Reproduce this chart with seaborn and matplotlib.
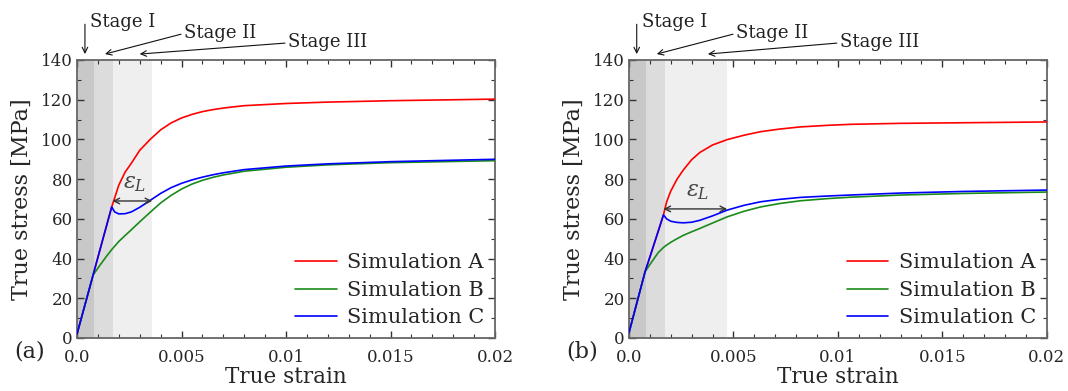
import numpy as np
import matplotlib
matplotlib.use("Agg")
import matplotlib.pyplot as plt
import seaborn as sns
from matplotlib.ticker import MultipleLocator

# panel (a)
strain_a = [0, 0.00077, 0.0011, 0.0014, 0.00166, 0.0018, 0.002, 0.0023, 0.0026, 0.003,
            0.0035, 0.004, 0.0045, 0.005, 0.0055, 0.006, 0.0065, 0.007, 0.008, 0.01,
            0.012, 0.015, 0.02]
sim_a_A = [2, 31.7, 44.5, 56, 66, 70.5, 77, 83.5, 88, 94.5,
           100, 104.8, 108.3, 110.8, 112.6, 114, 115, 115.8, 117, 118.1,
           118.8, 119.5, 120.3]
sim_a_B = [2, 31.7, 36.7, 41, 44.5, 46.2, 48.6, 51.6, 54.5, 58.5,
           63.3, 68, 71.8, 75, 77.5, 79.4, 80.9, 82.1, 84, 86,
           87.2, 88.3, 89.3]
sim_a_C = [2, 31.7, 44.5, 56, 66, 63.5, 62.5, 62.6, 63.5, 65.8,
           69.3, 72.8, 75.7, 77.9, 79.6, 81, 82.2, 83.2, 84.8, 86.6,
           87.7, 88.8, 90]

# panel (b)
strain_b = [0, 0.00077, 0.0011, 0.0014, 0.00165, 0.0018, 0.002, 0.0023, 0.0026, 0.003,
            0.0034, 0.004, 0.0047, 0.0055, 0.0063, 0.0072, 0.0082, 0.0095, 0.0106,
            0.013, 0.016, 0.02]
sim_b_A = [2.7, 33.4, 44, 53.8, 62, 68.5, 74, 80, 84.6, 89.8,
           93.5, 97.2, 99.9, 102.1, 103.9, 105.2, 106.3, 107.1, 107.6,
           108.1, 108.4, 108.8]
sim_b_B = [2.7, 33.4, 38.5, 43, 45.6, 46.8, 48.2, 50, 51.7, 53.5,
           55.2, 57.9, 61, 63.8, 66, 67.7, 69.1, 70.2, 70.9,
           72, 72.8, 73.5]
sim_b_C = [2.7, 33.4, 44, 53.8, 62, 60, 58.8, 58.2, 58, 58.3,
           59.3, 61.5, 64.4, 66.8, 68.6, 69.8, 70.8, 71.5, 72,
           73, 73.8, 74.5]

# stage boundaries (strain)
stages_a = [0.0008, 0.0017, 0.0036]
stages_b = [0.0008, 0.0017, 0.0047]
# epsilon_L arrow: start, end, stress
epsl_a = [0.0017, 0.0036, 69]
epsl_b = [0.00165, 0.0047, 65]
stage_tips_a = [0.00038, 0.00134, 0.0030]
stage_tips_b = [0.00037, 0.00133, 0.00378]

labels = ["Simulation A", "Simulation B", "Simulation C"]
colors = ["#ff0000", "#1a8a1a", "#0000ff"]

sns.set_style("ticks")
plt.rcParams["font.family"] = "DejaVu Serif"
plt.rcParams["mathtext.fontset"] = "dejavuserif"

fig = plt.figure(figsize=(10.68, 3.91), dpi=100)
ax1 = fig.add_axes([77/1068, 53/391, 418/1068, 278/391])
ax2 = fig.add_axes([629/1068, 53/391, 417.7/1068, 278/391])


def panel(ax, strain, curves, stages, epsl, tips, tag):
    shades = ["#c8c8c8", "#dcdcdc", "#efefef"]
    left = 0
    for s, c in zip(stages, shades):
        ax.axvspan(left, s, color=c, lw=0, zorder=0)
        left = s
    for y, lab, col in zip(curves, labels, colors):
        sns.lineplot(x=strain, y=y, ax=ax, color=col, label=lab, linewidth=1.2,
                     estimator=None, zorder=3)
    ax.set_xlim(0, 0.02)
    ax.set_ylim(0, 140)
    ax.set_xticks([0, 0.005, 0.01, 0.015, 0.02])
    ax.set_xticklabels(["0.0", "0.005", "0.01", "0.015", "0.02"])
    ax.set_yticks(range(0, 141, 20))
    ax.xaxis.set_minor_locator(MultipleLocator(0.001))
    ax.yaxis.set_minor_locator(MultipleLocator(10))
    ax.tick_params(which="both", direction="in", top=True, right=True,
                   labelsize=12, color="#333333")
    ax.tick_params(axis="x", pad=8)
    ax.tick_params(axis="y", pad=3)
    ax.tick_params(which="major", length=5, width=1)
    ax.tick_params(which="minor", length=3, width=0.8)
    for sp in ax.spines.values():
        sp.set_color("#666666")
        sp.set_linewidth(1.3)
    ax.set_xlabel("True strain", fontsize=15.5)
    ax.set_ylabel("True stress [MPa]", fontsize=16)
    ax.xaxis.set_label_coords(0.5, -0.1)
    ax.yaxis.set_label_coords(-0.105, 0.5)

    ax.legend(loc="lower right", frameon=False, fontsize=15, handlelength=2.0,
              handletextpad=0.5, labelspacing=0.4, borderaxespad=0.12)

    # epsilon_L
    ax.annotate("", xy=(epsl[1], epsl[2]), xytext=(epsl[0], epsl[2]),
                arrowprops=dict(arrowstyle="<->", color="#333333", lw=1,
                                shrinkA=0, shrinkB=0), zorder=4)
    ax.text((epsl[0] + epsl[1]) / 2 + 0.0001, epsl[2] + 3.5, r"$\varepsilon_L$",
            fontsize=16, color="#444444", ha="center", va="bottom")

    # stage labels
    arrow = dict(arrowstyle="->", color="#111111", lw=0.8, shrinkA=0, shrinkB=0)
    ax.annotate("", xy=(tips[0], 143), xytext=(tips[0], 158),
                arrowprops=arrow, annotation_clip=False)
    ax.text(0.00062, 159, "Stage I", fontsize=13, color="#222222",
            ha="left", va="center", clip_on=False)
    ax.annotate("", xy=(tips[1], 143), xytext=(0.00498, 153),
                arrowprops=arrow, annotation_clip=False)
    ax.text(0.00512, 153.5, "Stage II", fontsize=13, color="#222222",
            ha="left", va="center", clip_on=False)
    ax.annotate("", xy=(tips[2], 143), xytext=(0.00995, 148.5),
                arrowprops=arrow, annotation_clip=False)
    ax.text(0.0101, 149, "Stage III", fontsize=13, color="#222222",
            ha="left", va="center", clip_on=False)

    ax.text(-0.113, -0.05, tag, transform=ax.transAxes, fontsize=16,
            ha="center", va="center")


panel(ax1, strain_a, [sim_a_A, sim_a_B, sim_a_C], stages_a, epsl_a, stage_tips_a, "(a)")
panel(ax2, strain_b, [sim_b_A, sim_b_B, sim_b_C], stages_b, epsl_b, stage_tips_b, "(b)")

fig.savefig("out.png", dpi=100)
